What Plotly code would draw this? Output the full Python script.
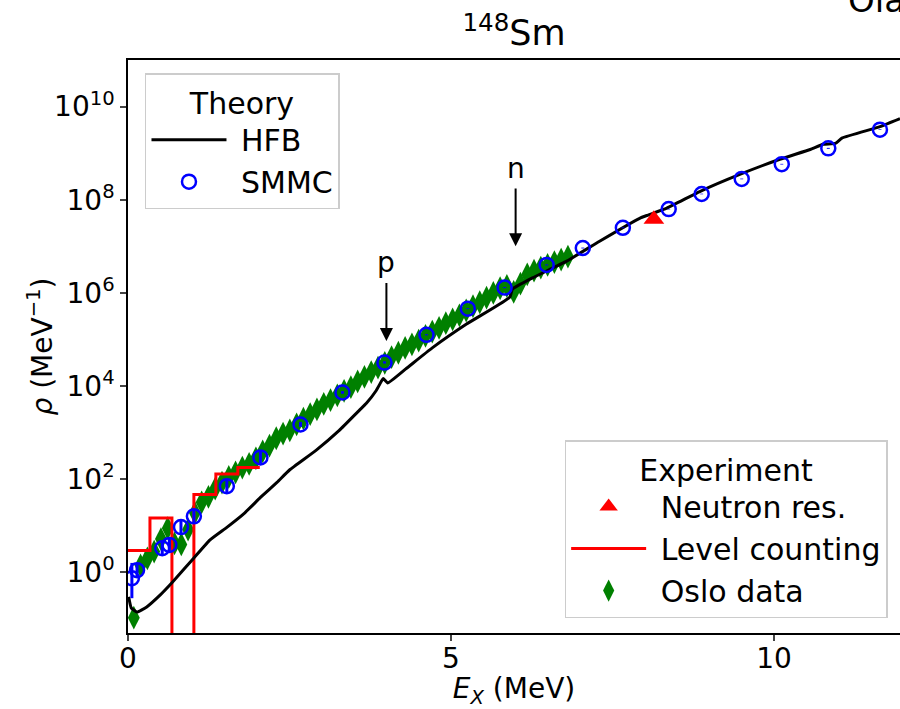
import plotly.graph_objects as go
import math

# ---------------- data ----------------
hfb_E = [0.01, 0.05, 0.14, 0.29, 0.50, 0.68, 1.02, 1.27, 1.53, 1.80, 2.05, 2.31, 2.50,
         2.91, 3.27, 3.58, 3.69, 3.84, 3.92, 3.95, 4.02, 4.30, 4.71, 5.24, 5.91, 5.95,
         6.26, 6.79, 7.30, 7.92, 8.05, 8.34, 8.85, 9.47, 10.09, 10.56, 10.76, 10.95,
         11.05, 11.64, 11.95]
hfb_rho = [0.30, 0.174, 0.141, 0.182, 0.33, 0.60, 2.04, 5.0, 9.3, 18.6, 40.7, 87, 158,
           417, 1120, 3020, 4270, 7940, 1.25e4, 1.45e4, 1.17e4, 2.34e4, 6.6e4, 2.14e5,
           8.1e5, 1.2e6, 2.1e6, 4.8e6, 1.29e7, 4.0e7, 4.7e7, 6.6e7, 1.5e8, 3.5e8, 7.4e8,
           1.2e9, 1.55e9, 1.62e9, 2.1e9, 3.7e9, 5.5e9]

smmc_E = [0.06, 0.14, 0.53, 0.64, 0.82, 1.02, 1.53, 2.05, 2.67, 3.32, 3.97, 4.62, 5.26,
          5.83, 6.48, 7.04, 7.66, 8.37, 8.88, 9.50, 10.12, 10.84, 11.64]
smmc_rho = [0.75, 1.12, 3.3, 3.9, 9.4, 16, 71, 295, 1500, 7300, 3.2e4, 1.26e5, 4.6e5,
            1.3e6, 4.0e6, 9.2e6, 2.5e7, 6.3e7, 1.33e8, 2.8e8, 5.8e8, 1.27e9, 3.2e9]
smmc_hi = [1.6, 1.6, 4.6, 5.4, 13, 22, 97, 400, 1700, 7800, 3.4e4, 1.3e5, 4.7e5,
           1.33e6, 4.1e6, 9.4e6, 2.55e7, 6.4e7, 1.35e8, 2.85e8, 5.9e8, 1.3e9, 3.25e9]
smmc_lo = [0.28, 0.78, 2.4, 2.8, 6.8, 11.6, 52, 215, 1330, 6850, 3.05e4, 1.23e5, 4.5e5,
           1.27e6, 3.9e6, 9.0e6, 2.45e7, 6.2e7, 1.31e8, 2.75e8, 5.7e8, 1.24e9, 3.15e9]

oslo_E = [0.09, 0.195, 0.30, 0.405, 0.51, 0.615, 0.72, 0.825, 0.93, 1.035, 1.14, 1.245,
          1.35, 1.455, 1.56, 1.665, 1.77, 1.875, 1.98, 2.085, 2.19, 2.295, 2.40, 2.505,
          2.61, 2.715, 2.82, 2.925, 3.03, 3.135, 3.24, 3.345, 3.45, 3.555, 3.66, 3.765,
          3.87, 3.975, 4.08, 4.185, 4.29, 4.395, 4.50, 4.605, 4.71, 4.815, 4.92, 5.025,
          5.13, 5.235, 5.34, 5.445, 5.55, 5.655, 5.76, 5.865, 5.97, 6.075, 6.18, 6.285,
          6.39, 6.495, 6.60, 6.705, 6.81]
oslo_rho = [0.107, 1.41, 2.0, 2.8, 5.2, 8.9, 4.2, 4.0, 8.3, 19, 32, 42, 63, 85, 112, 141,
            178, 214, 282, 398, 525, 759, 955, 1120, 1510, 2000, 2500, 3160, 4170, 5000,
            6300, 7900, 9500, 1.26e4, 1.58e4, 2.0e4, 2.5e4, 3.16e4, 4.2e4, 5.2e4, 6.6e4,
            7.9e4, 9.5e4, 1.2e5, 1.48e5, 1.78e5, 2.24e5, 2.7e5, 3.3e5, 4.2e5, 5.2e5,
            6.3e5, 7.9e5, 1.0e6, 1.26e6, 1.41e6, 1.05e6, 1.58e6, 2.5e6, 3.0e6, 3.5e6,
            4.0e6, 4.6e6, 5.2e6, 6.0e6]
oslo_err = [0.03, 0.2, 0.25, 0.3, 0.5, 0.8, 0.4, 0.4, 0.7, 1.5, 2.5, 3, 4, 5, 6, 7, 8, 9,
            11, 15, 19, 27, 33, 38, 50, 65, 80, 100, 130, 155, 190, 240, 290, 380, 480,
            600, 750, 950, 1260, 1560, 2000, 2400, 2900, 3600, 4500, 5400, 6800, 8200,
            1.0e4, 1.3e4, 1.6e4, 1.9e4, 2.4e4, 3.0e4, 3.8e4, 4.3e4, 3.2e4, 4.8e4, 7.5e4,
            9.0e4, 1.05e5, 1.2e5, 1.4e5, 1.6e5, 1.8e5]

lc_edges = [0.0, 0.34, 0.68, 1.02, 1.36, 1.70, 2.04]
lc_rho = [2.94, 14.7, 0.0, 47.0, 129.0, 179.0]

nres_E = [8.14]
nres_rho = [3.8e7]

y_tickvals = [1, 1e2, 1e4, 1e6, 1e8, 1e10]
y_ticktext = ["10<sup>0</sup>", "10<sup>2</sup>", "10<sup>4</sup>", "10<sup>6</sup>",
              "10<sup>8</sup>", "10<sup>10</sup>"]
x_tickvals = [0, 5, 10]

arrow_labels = ["p", "n"]
arrow_E = [4.0, 6.0]
arrow_tip_rho = [9.3e4, 1.0e7]
arrow_text_rho = [4.4e6, 4.7e8]

# ---------------- figure ----------------
FONT = "DejaVu Sans"
LFONT = 30
NB = "\u00a0"
fig = go.Figure()

# Oslo data (bottom layer)
fig.add_trace(go.Scatter(
    x=oslo_E, y=oslo_rho, mode="markers", name=NB + "Oslo data",
    marker=dict(symbol="diamond-tall", size=17, color="#008000", line=dict(width=0)),
    error_y=dict(type="data", array=oslo_err, color="#008000", thickness=2, width=0),
    legend="legend2", legendrank=3))

# Level counting step (zero bins drawn to the axis floor)
lc_x = list(lc_edges)
lc_y = [max(v, 1e-3) for v in lc_rho] + [max(lc_rho[-1], 1e-3)]
fig.add_trace(go.Scatter(
    x=lc_x, y=lc_y, mode="lines", line_shape="hv", name=NB + "Level counting",
    line=dict(color="#ff0000", width=3), legend="legend2", legendrank=2))

# HFB
fig.add_trace(go.Scatter(
    x=hfb_E, y=hfb_rho, mode="lines", name=NB + "HFB", line_shape="spline",
    line=dict(color="black", width=3, smoothing=0.4), legend="legend", legendrank=1))

# Neutron resonances
fig.add_trace(go.Scatter(
    x=nres_E, y=nres_rho, mode="markers", name=NB + "Neutron res.",
    marker=dict(symbol="triangle-up", size=18, color="#ff0000"),
    legend="legend2", legendrank=1))

# SMMC
fig.add_trace(go.Scatter(
    x=smmc_E, y=smmc_rho, mode="markers", name=NB + "SMMC",
    marker=dict(symbol="circle-open", size=14, color="#0000ff", line=dict(width=2.5)),
    error_y=dict(type="data", symmetric=False,
                 array=[h - r for h, r in zip(smmc_hi, smmc_rho)],
                 arrayminus=[r - l for l, r in zip(smmc_lo, smmc_rho)],
                 color="#0000ff", thickness=3, width=0),
    legend="legend", legendrank=2))

# arrows p and n
for lab, e, tip, txt in zip(arrow_labels, arrow_E, arrow_tip_rho, arrow_text_rho):
    fig.add_annotation(x=e, y=math.log10(tip), ax=e, ay=math.log10(txt),
                       xref="x", yref="y", axref="x", ayref="y",
                       text=lab, showarrow=True, arrowhead=2, arrowsize=1.3,
                       arrowwidth=2, arrowcolor="black", startstandoff=2,
                       font=dict(family=FONT, size=28, color="black"))

# y-axis title as an annotation for exact placement
fig.add_annotation(x=(41 - 128) / 772, y=0.5, xref="paper", yref="paper",
                   xanchor="center", yanchor="middle", textangle=-90,
                   text="<i>ρ</i> (MeV<sup>−1</sup>)", showarrow=False,
                   font=dict(family=FONT, size=28, color="black"))

# partially visible text in the top-right corner
fig.add_annotation(x=0.93, y=1.066, xref="paper", yref="paper", xanchor="left",
                   yanchor="bottom", text="Ola", showarrow=False,
                   font=dict(family=FONT, size=34, color="black"))

fig.update_layout(
    width=900, height=709,
    margin=dict(l=128, r=0, t=60, b=76),
    paper_bgcolor="white", plot_bgcolor="white",
    font=dict(family=FONT, size=28, color="black"),
    title=dict(text="<sup>148</sup>Sm", x=0.5, xref="paper", xanchor="center",
               y=1 - 33 / 709, yref="container", yanchor="middle",
               font=dict(family=FONT, size=35, color="black")),
    showlegend=True,
    legend=dict(title=dict(text="Theory", side="top center",
                           font=dict(family=FONT, size=LFONT)),
                x=0.022, y=0.977, xanchor="left", yanchor="top",
                bgcolor="rgba(255,255,255,0.8)", bordercolor="#cccccc", borderwidth=1.5,
                font=dict(family=FONT, size=LFONT), itemwidth=75, tracegroupgap=0),
    legend2=dict(title=dict(text="Experiment", side="top center",
                            font=dict(family=FONT, size=LFONT)),
                 x=0.984, y=0.026, xanchor="right", yanchor="bottom",
                 bgcolor="rgba(255,255,255,0.8)", bordercolor="#cccccc", borderwidth=1.5,
                 font=dict(family=FONT, size=LFONT), itemwidth=75, tracegroupgap=0),
)

fig.update_xaxes(range=[0, 11.95], tickvals=x_tickvals, ticks="outside", ticklen=6,
                 tickwidth=1.5, showline=True, linewidth=1.5, linecolor="black",
                 mirror=True, showgrid=False, zeroline=False, ticklabelstandoff=-6,
                 tickfont=dict(family=FONT, size=28),
                 title=dict(text="<i>E</i><sub><i>X</i></sub> (MeV)", standoff=8,
                            font=dict(family=FONT, size=28)))
fig.update_yaxes(type="log", range=[-1.3, 11.0], tickvals=y_tickvals, ticktext=y_ticktext,
                 ticks="outside", ticklen=6, tickwidth=1.5, showline=True, linewidth=1.5,
                 linecolor="black", mirror=False, showgrid=False, zeroline=False,
                 tickfont=dict(family=FONT, size=28))

fig.write_html("out.html")
